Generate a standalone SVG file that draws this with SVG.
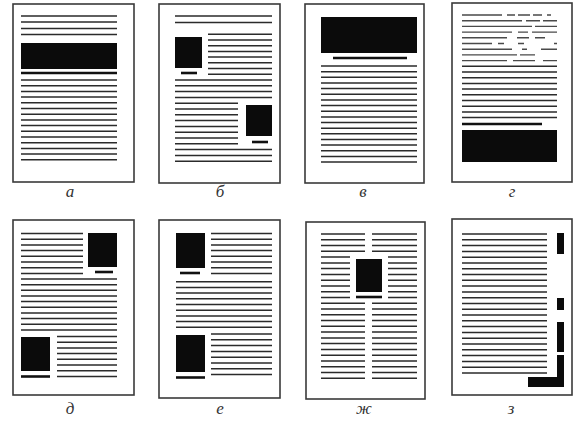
<svg xmlns="http://www.w3.org/2000/svg" width="581" height="421" viewBox="0 0 581 421">
<style>
.page{fill:#fff;stroke:#3a3a3a;stroke-width:1.6}
.tx{fill:none;stroke:#2b2b2b;stroke-width:1.5}
.faint{fill:none;stroke:#4a4a4a;stroke-width:1.4}
.cap{fill:none;stroke:#111;stroke-width:2.6}
.blk{fill:#0b0b0b}
.lbl{font-family:"Liberation Serif",serif;font-style:italic;font-size:17px;fill:#333;text-anchor:middle}
</style>
<rect width="581" height="421" fill="#fff"/>

<g id="page-a">
<rect class="page" x="13" y="4" width="121" height="178"/>
<path class="tx" d="M21 16H117M21 22H117M21 28.5H117M21 34.5H117M21 80H117M21 85.7H117M21 91.4H117M21 97.1H117M21 102.8H117M21 108.5H117M21 114.2H117M21 119.9H117M21 125.6H117M21 131.3H117M21 137H117M21 142.7H117M21 148.4H117M21 154.1H117M21 159.8H117"/>
<rect class="blk" x="21" y="43" width="96" height="26"/>
<path class="cap" d="M21 73H117"/>
<text class="lbl" x="70" y="197">а</text>
</g>

<g id="page-b">
<rect class="page" x="159" y="4" width="121" height="179"/>
<path class="tx" d="M175 16H272M175 22.5H272M208 34.3H272M208 40H272M208 45.7H272M208 51.4H272M208 57.1H272M208 62.8H272M208 68.5H272M208 74.2H272M175 80H272M175 85.8H272M175 91.6H272M175 97.4H272M175 103.2H238M175 109H238M175 114.8H238M175 120.6H238M175 126.4H238M175 132.2H238M175 138H238M175 143.8H238M175 149.6H272M175 155.4H272M175 161.2H272"/>
<rect class="blk" x="175" y="37" width="27" height="31"/>
<path class="cap" d="M181 73H197"/>
<rect class="blk" x="246" y="105" width="26" height="31"/>
<path class="cap" d="M252 142H268"/>
<text class="lbl" x="220" y="197">б</text>
</g>

<g id="page-v">
<rect class="page" x="305" y="4" width="119" height="179"/>
<rect class="blk" x="321" y="17" width="96" height="36"/>
<path class="cap" d="M333 58H407"/>
<path class="tx" d="M321 66H417M321 71.7H417M321 77.3H417M321 83H417M321 88.6H417M321 94.3H417M321 99.9H417M321 105.6H417M321 111.2H417M321 116.9H417M321 122.5H417M321 128.2H417M321 133.8H417M321 139.5H417M321 145.1H417M321 150.8H417M321 156.4H417M321 162H417"/>
<text class="lbl" x="363" y="197">в</text>
</g>

<g id="page-g">
<rect class="page" x="452" y="3" width="120" height="179"/>
<path class="faint" stroke-dasharray="40 5 8 3 12 3 9 5 4 6" d="M462 15H557"/>
<path class="faint" stroke-dasharray="60 4 14 3 20" d="M462 20.7H557"/>
<path class="faint" stroke-dasharray="70 3 22" d="M462 26.4H557"/>
<path class="faint" stroke-dasharray="50 6 10 4 25" d="M462 32.1H557"/>
<path class="faint" stroke-dasharray="45 10 12 6 10 20 4" d="M462 37.8H557"/>
<path class="faint" stroke-dasharray="30 6 6 14 6 30 4" d="M462 43.5H557"/>
<path class="faint" stroke-dasharray="50 10 5 14 18" d="M462 49.2H557"/>
<path class="faint" stroke-dasharray="55 3 15 22" d="M462 54.9H557"/>
<path class="faint" stroke-dasharray="45 6 22 8 14" d="M462 60.6H557"/>
<path class="tx" d="M462 66.3H557M462 72H557M462 77.7H557M462 83.4H557M462 89.1H557M462 94.8H557M462 100.5H557M462 106.2H557M462 111.9H557M462 117.6H557"/>
<path class="cap" d="M462 124H542"/>
<rect class="blk" x="462" y="130" width="95" height="32"/>
<text class="lbl" x="512" y="197">г</text>
</g>

<g id="page-d">
<rect class="page" x="13" y="220" width="121" height="175"/>
<rect class="blk" x="88" y="233" width="29" height="34"/>
<path class="cap" d="M95 272H113"/>
<path class="tx" d="M21 233.5H83M21 239.2H83M21 244.9H83M21 250.6H83M21 256.3H83M21 262H83M21 267.7H83M21 273.4H83M21 279H117M21 284.7H117M21 290.3H117M21 296H117M21 301.6H117M21 307.3H117M21 312.9H117M21 318.6H117M21 324.2H117M21 329.9H117M57 336.5H117M57 342.2H117M57 347.9H117M57 353.6H117M57 359.3H117M57 365H117M57 370.7H117M57 376.4H117"/>
<rect class="blk" x="21" y="337" width="29" height="34"/>
<path class="cap" d="M21 376.5H50"/>
<text class="lbl" x="70" y="414">д</text>
</g>

<g id="page-e">
<rect class="page" x="159" y="220" width="121" height="178"/>
<rect class="blk" x="176" y="233" width="29" height="35"/>
<path class="cap" d="M180 273H200"/>
<path class="tx" d="M211 233.5H272M211 239.2H272M211 244.9H272M211 250.6H272M211 256.3H272M211 262H272M211 267.7H272M211 273.4H272M176 281.7H272M176 287.4H272M176 293.1H272M176 298.8H272M176 304.5H272M176 310.2H272M176 315.9H272M176 321.6H272M176 327.3H272M211 334H272M211 339.8H272M211 345.6H272M211 351.4H272M211 357.2H272M211 363H272M211 368.8H272M211 374.6H272"/>
<rect class="blk" x="176" y="335" width="29" height="37"/>
<path class="cap" d="M176 377.5H205"/>
<text class="lbl" x="220" y="414">е</text>
</g>

<g id="page-zh">
<rect class="page" x="306" y="222" width="119" height="177"/>
<path class="tx" d="M321 234H365M372 234H417M321 239.8H365M372 239.8H417M321 245.5H365M372 245.5H417M321 251.3H365M372 251.3H417M321 257.1H350M388 257.1H417M321 262.9H350M388 262.9H417M321 268.6H350M388 268.6H417M321 274.4H350M388 274.4H417M321 280.2H350M388 280.2H417M321 285.9H350M388 285.9H417M321 291.7H350M388 291.7H417M321 297.5H350M388 297.5H417M321 303.2H365M372 303.2H417M321 309H365M372 309H417M321 314.8H365M372 314.8H417M321 320.6H365M372 320.6H417M321 326.3H365M372 326.3H417M321 332.1H365M372 332.1H417M321 337.9H365M372 337.9H417M321 343.6H365M372 343.6H417M321 349.4H365M372 349.4H417M321 355.2H365M372 355.2H417M321 360.9H365M372 360.9H417M321 366.7H365M372 366.7H417M321 372.5H365M372 372.5H417M321 378.3H365M372 378.3H417"/>
<rect class="blk" x="356" y="259" width="26" height="33"/>
<path class="cap" d="M356 297H382"/>
<text class="lbl" x="364" y="414">ж</text>
</g>

<g id="page-z">
<rect class="page" x="452" y="219" width="120" height="176"/>
<path class="tx" d="M462 234H547M462 239.8H547M462 245.6H547M462 251.4H547M462 257.2H547M462 262.9H547M462 268.7H547M462 274.5H547M462 280.3H547M462 286.1H547M462 291.9H547M462 297.7H547M462 303.5H547M462 309.3H547M462 315.1H547M462 320.8H547M462 326.6H547M462 332.4H547M462 338.2H547M462 344H547M462 349.8H547M462 355.6H547M462 361.4H547M462 367.2H547M462 373H547"/>
<rect class="blk" x="557" y="233" width="7" height="21"/>
<rect class="blk" x="557" y="298" width="7" height="12"/>
<rect class="blk" x="557" y="322" width="7" height="30"/>
<path class="blk" d="M557 355H564V387H528V377H557Z"/>
<text class="lbl" x="511" y="414">з</text>
</g>
</svg>
